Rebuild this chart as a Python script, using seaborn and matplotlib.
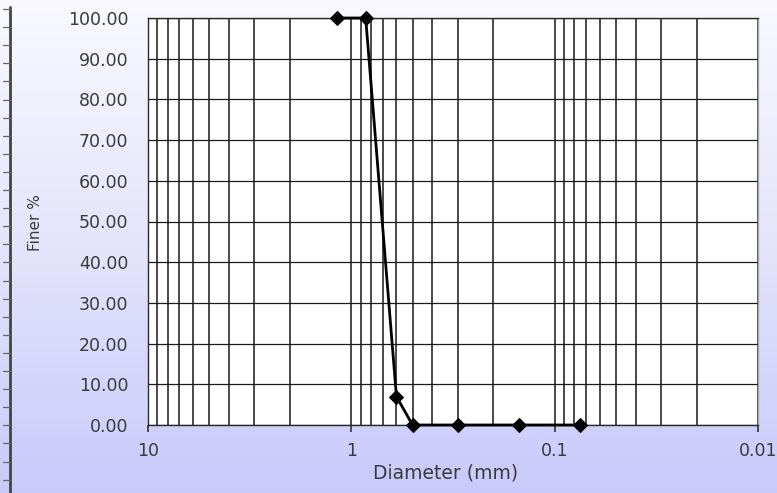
import numpy as np
import pandas as pd
import matplotlib
matplotlib.use("Agg")
import matplotlib.pyplot as plt
import seaborn as sns
from matplotlib.colors import LinearSegmentedColormap
from matplotlib.lines import Line2D
from matplotlib.ticker import FixedLocator, LogLocator, NullFormatter, FixedFormatter

# Sieve analysis: particle diameter (mm) vs. percent finer
diameter_mm = [1.18, 0.85, 0.6, 0.5, 0.3, 0.15, 0.075]
finer_pct = [100.0, 100.0, 7.0, 0.0, 0.0, 0.0, 0.0]

x_ticks = [10, 1, 0.1, 0.01]
x_tick_labels = ["10", "1", "0.1", "0.01"]
y_ticks = [0, 10, 20, 30, 40, 50, 60, 70, 80, 90, 100]

df = pd.DataFrame({"diameter": diameter_mm, "finer": finer_pct})

sns.set_theme(style="white")
plt.rcParams["font.family"] = ["DejaVu Sans"]

W, H = 777, 493
fig = plt.figure(figsize=(W / 100, H / 100), dpi=100)

# gradient backdrop
bg = fig.add_axes([0, 0, 1, 1], zorder=-10)
grad = np.linspace(0, 1, 256)[:, None]
cmap = LinearSegmentedColormap.from_list("bg", ["#f9f9ff", "#e4e4fb", "#c9c9fc"])
bg.imshow(grad, aspect="auto", cmap=cmap, extent=[0, 1, 0, 1], origin="upper")
bg.axis("off")

# left ruler
fig.add_artist(Line2D([10 / W, 10 / W], [0, 1 - 7 / H], transform=fig.transFigure,
                      color="#444444", lw=2))
for yp in np.arange(9, H, 18.1):
    fig.add_artist(Line2D([3 / W, 10 / W], [1 - yp / H, 1 - yp / H],
                          transform=fig.transFigure, color="#666666", lw=0.9))

left, right, top, bottom = 148, 758, 18, 425
ax = fig.add_axes([left / W, 1 - bottom / H, (right - left) / W, (bottom - top) / H])
ax.set_facecolor("white")

sns.lineplot(data=df, x="diameter", y="finer", ax=ax, color="black", lw=2,
             marker="D", markersize=7, markeredgecolor="black", sort=False,
             estimator=None, zorder=5, clip_on=False)

ax.set_xscale("log")
ax.set_xlim(10, 0.01)
ax.set_ylim(0, 100)

ax.xaxis.set_major_locator(FixedLocator(x_ticks))
ax.xaxis.set_major_formatter(FixedFormatter(x_tick_labels))
ax.xaxis.set_minor_locator(LogLocator(base=10, subs=np.arange(2, 10)))
ax.xaxis.set_minor_formatter(NullFormatter())
ax.yaxis.set_major_locator(FixedLocator(y_ticks))
ax.set_yticklabels([f"{v:.2f}" for v in y_ticks])

ax.grid(True, which="both", axis="x", color="#3a3a3a", lw=1.3)
ax.grid(True, which="major", axis="y", color="#1a1a1a", lw=0.9)

ax.tick_params(axis="x", which="major", length=5, width=1.2, color="#333333",
               direction="out", pad=7, labelsize=12.5, labelcolor="#3a3a3a", bottom=True)
ax.tick_params(axis="x", which="minor", length=0)
ax.tick_params(axis="y", length=0, pad=14, labelsize=12.5, labelcolor="#3a3a3a")

for side, sp in ax.spines.items():
    sp.set_visible(True)
    sp.set_linewidth(1.0)
    sp.set_color("#2a2a2a")
ax.spines["right"].set_color("#aaaaaa")

ax.set_xlabel("")
ax.set_ylabel("")
fig.text(446 / W, 1 - 473 / H, "Diameter (mm)", ha="center", va="center",
         fontsize=13.5, color="#3a3a3a")
fig.text(35 / W, 1 - 223 / H, "Finer %", ha="center", va="center", rotation=90,
         fontsize=11, color="#3a3a3a")

fig.savefig("out.png", dpi=100)
